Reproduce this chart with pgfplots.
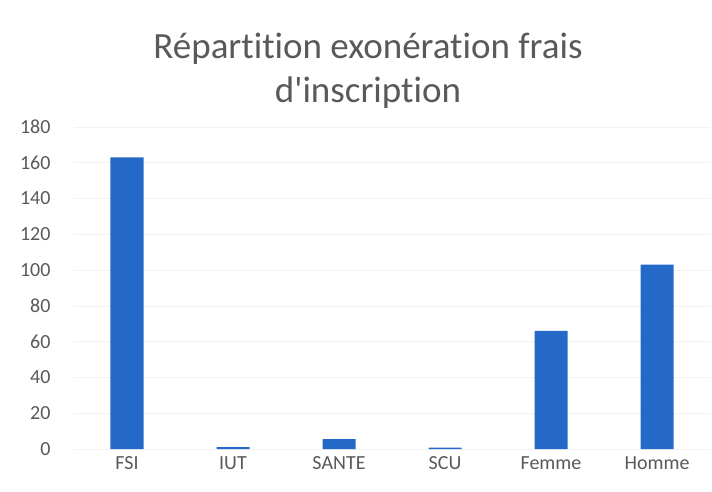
\documentclass[border=0pt]{standalone}
\usepackage{pgfplots}
\pgfplotsset{compat=1.18}
\usepackage{fontspec}
\setmainfont{Carlito}[Ligatures=NoCommon]
\definecolor{barblue}{RGB}{36,104,200}
\definecolor{txtgray}{RGB}{89,89,89}
\begin{document}
\begin{tikzpicture}
\path[use as bounding box] (-74pt,-42pt) rectangle (638pt,449pt);
\begin{axis}[
  at={(0pt,0pt)}, anchor=south west,
  scale only axis, width=636pt, height=322pt,
  xmin=-0.5, xmax=5.5, ymin=0, ymax=180,
  ytick={0,20,...,180},
  xtick={0,...,5},
  xticklabels={FSI,IUT,SANTE,SCU,Femme,Homme},
  axis line style={draw=none},
  major tick length=0pt,
  ymajorgrids, grid style={gray!10, line width=0.6pt},
  tick label style={font=\fontsize{20}{22}\selectfont, text=txtgray},
  /pgf/number format/assume math mode=true,
  yticklabel style={xshift=-20pt},
  xticklabel style={yshift=-4pt},
]
\addplot[ybar, bar width=33pt, fill=barblue, draw=none] coordinates {
  (0,163) (1,1) (2,5.5) (3,0.8) (4,66) (5,103)
};
\end{axis}
\node[text=txtgray, font=\fontsize{37}{44}\selectfont, align=center] at (294pt,378pt) {Répartition exonération frais\\d\textquotesingle inscription};
\end{tikzpicture}
\end{document}
